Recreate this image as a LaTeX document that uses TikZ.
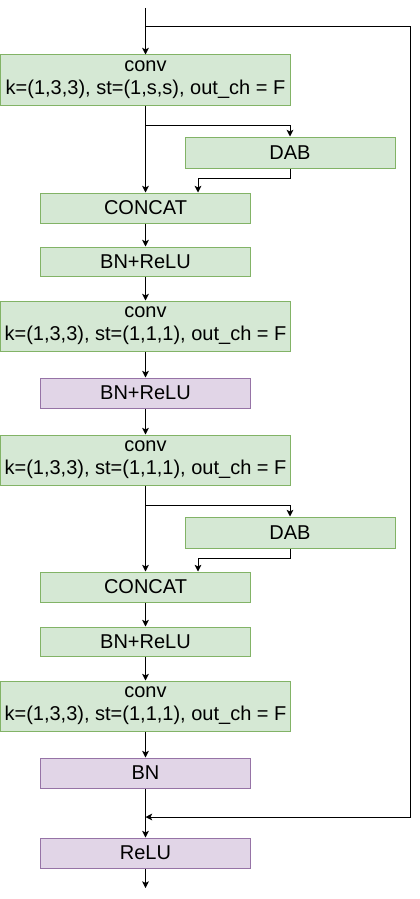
\documentclass[tikz,border=0pt]{standalone}
\usepackage{fontspec}
\setmainfont{Liberation Sans}
\usetikzlibrary{arrows.meta,positioning,calc}
\definecolor{Gf}{HTML}{D5E8D4}
\definecolor{Gd}{HTML}{82B366}
\definecolor{Pf}{HTML}{E1D5E7}
\definecolor{Pd}{HTML}{9673A6}
\newcommand{\px}{0.75pt}
\tikzset{
  blk/.style={rectangle, line width=0.75pt, inner sep=0pt, align=center,
    minimum width=210*\px, minimum height=30*\px, font=\fontsize{15pt}{17.5pt}\selectfont},
  gbox/.style={blk, fill=Gf, draw=Gd},
  pbox/.style={blk, fill=Pf, draw=Pd},
  cbox/.style={gbox, minimum width=290*\px, minimum height=50*\px},
  flow/.style={-{Stealth[length=5pt, width=5pt, inset=1.2pt]}, line width=0.75pt},
  wire/.style={line width=0.75pt},
}
\newcommand{\convtxt}[1]{conv\\k=(1,3,3), st=#1, out\_ch = F}

\begin{document}
\begin{tikzpicture}[x=0.75pt, y=-0.75pt]
  \useasboundingbox (0,0) rectangle (420,899);
  % main column
  \node[cbox] (conv1) at (145.5,80) {\convtxt{(1,s,s)}};
  \node[gbox, minimum height=31*\px] (dab1) at (290,152.5) {DAB};
  \node[gbox] (cat1) at (145.5,208) {CONCAT};
  \node[gbox, minimum height=29*\px] (bnr1) at (145.5,261.5) {BN+ReLU};
  \node[cbox] (conv2) at (145.5,326) {\convtxt{(1,1,1)}};
  \node[pbox] (bnr2) at (145.5,393) {BN+ReLU};
  \node[cbox] (conv3) at (145.5,460) {\convtxt{(1,1,1)}};
  \node[gbox, minimum height=31*\px] (dab2) at (290,532.5) {DAB};
  \node[gbox] (cat2) at (145.5,587) {CONCAT};
  \node[gbox, minimum height=29*\px] (bnr3) at (145.5,641.5) {BN+ReLU};
  \node[cbox] (conv4) at (145.5,706) {\convtxt{(1,1,1)}};
  \node[pbox] (bn) at (145.5,773) {BN};
  \node[pbox] (relu) at (145.5,853) {ReLU};
  % free ends
  \coordinate (in) at (145.5,8);
  \coordinate (out) at (145.5,888);
  \coordinate (skS) at (145.5,27);
  \coordinate (skA) at (410,27);
  \coordinate (skB) at (410,817);
  \coordinate (skE) at (145.5,817);
  \coordinate (br1) at (145.5,125);
  \coordinate (br2) at (145.5,505);
  % connectors
  \draw[flow] (in) -- (conv1.north);
  \draw[flow] (skS) -- (skA) -- (skB) -- (skE);
  \draw[flow] (conv1.south) -- (cat1.north);
  \draw[flow] (br1) -| (dab1.north);
  \draw[flow] (dab1.south) -- ++(0,10) -| ($(cat1.north)+(52.5,0)$);
  \draw[flow] (cat1) -- (bnr1);
  \draw[flow] (bnr1) -- (conv2);
  \draw[flow] (conv2) -- (bnr2);
  \draw[flow] (bnr2) -- (conv3);
  \draw[flow] (conv3.south) -- (cat2.north);
  \draw[flow] (br2) -| (dab2.north);
  \draw[flow] (dab2.south) -- ++(0,10) -| ($(cat2.north)+(52.5,0)$);
  \draw[flow] (cat2) -- (bnr3);
  \draw[flow] (bnr3) -- (conv4);
  \draw[flow] (conv4) -- (bn);
  \draw[flow] (bn) -- (relu);
  \draw[flow] (relu) -- (out);
\end{tikzpicture}
\end{document}
